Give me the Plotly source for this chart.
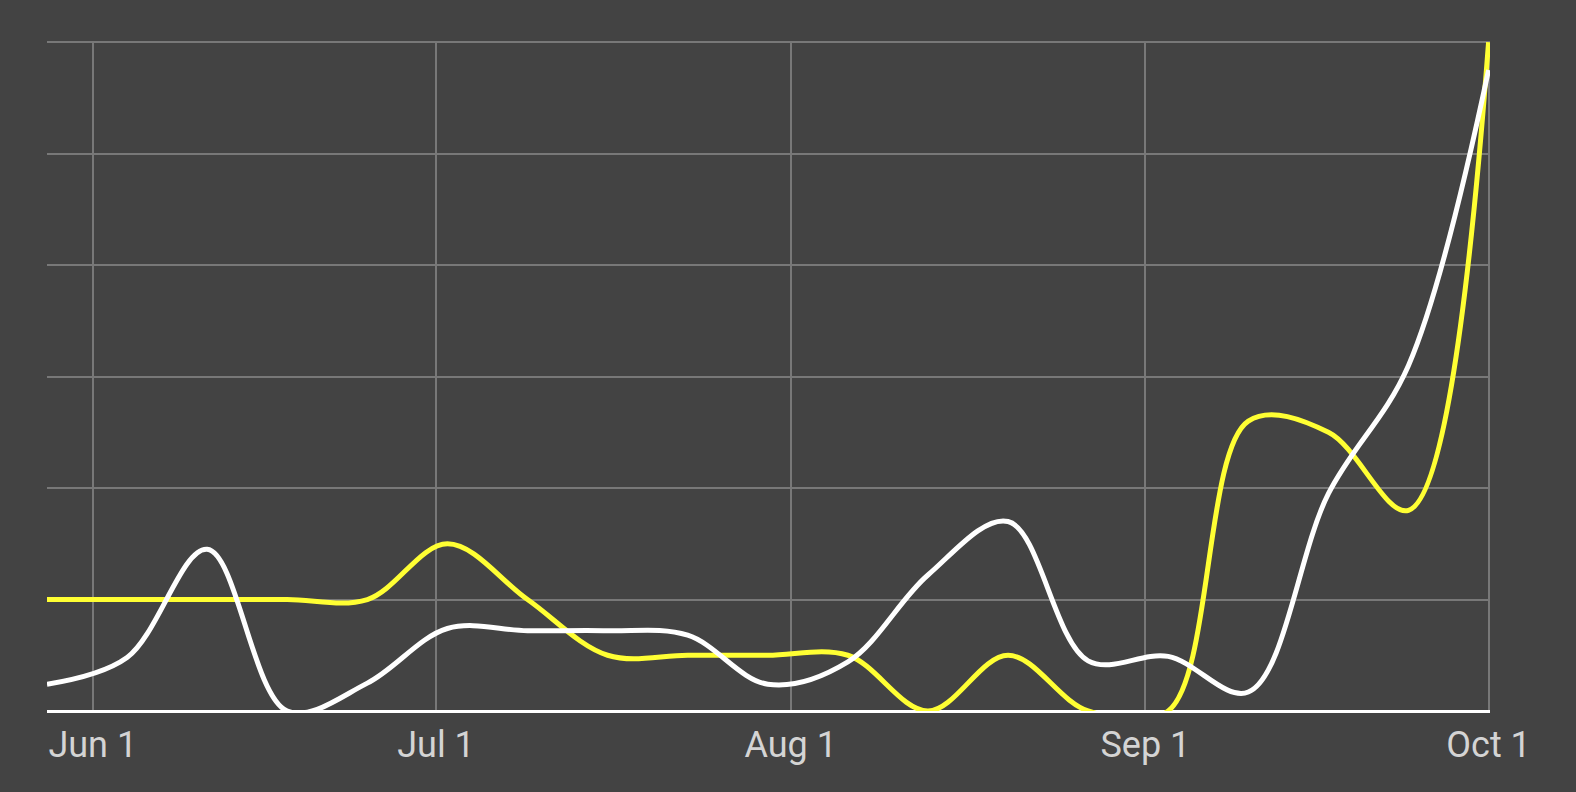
import plotly.graph_objects as go

dates = ["2019-05-28", "2019-06-04", "2019-06-11", "2019-06-18", "2019-06-25",
         "2019-07-02", "2019-07-09", "2019-07-16", "2019-07-23", "2019-07-30",
         "2019-08-06", "2019-08-13", "2019-08-20", "2019-08-27", "2019-09-03",
         "2019-09-10", "2019-09-17", "2019-09-24", "2019-10-01"]

white_series = [0.24, 0.48, 1.45, 0.0, 0.25, 0.74, 0.72, 0.72, 0.68, 0.24,
                0.44, 1.22, 1.70, 0.45, 0.49, 0.17, 1.95, 3.10, 5.75]

yellow_series = [1.0, 1.0, 1.0, 1.0, 1.0, 1.5, 1.0, 0.5, 0.5, 0.5,
                 0.5, 0.0, 0.5, 0.0, 0.0, 2.6, 2.5, 1.8, 6.0]

tick_dates = ["2019-06-01", "2019-07-01", "2019-08-01", "2019-09-01", "2019-10-01"]
tick_labels = ["Jun 1", "Jul 1", "Aug 1", "Sep 1", "Oct 1"]

BG = "#434343"
GRID = "#787878"

fig = go.Figure()
fig.add_trace(go.Scatter(x=dates, y=yellow_series, mode="lines",
                         line=dict(color="#ffff33", width=5, shape="spline", smoothing=1),
                         hoverinfo="skip", showlegend=False))
fig.add_trace(go.Scatter(x=dates, y=white_series, mode="lines",
                         line=dict(color="#ffffff", width=5, shape="spline", smoothing=1),
                         hoverinfo="skip", showlegend=False))

fig.update_layout(
    width=1576, height=792,
    paper_bgcolor=BG, plot_bgcolor=BG,
    margin=dict(l=47, r=86, t=41, b=81),
    font=dict(family="Roboto", size=36, color="#d4d4d4"),
    xaxis=dict(
        type="date",
        range=[dates[0], "2019-10-01 03:00"],
        tickvals=tick_dates, ticktext=tick_labels,
        showgrid=True, gridcolor=GRID, gridwidth=2,
        zeroline=False, showline=False,
        ticks="", ticklabelstandoff=9,
        tickfont=dict(family="Roboto", size=36, color="#d4d4d4"),
    ),
    yaxis=dict(
        range=[0, 6.01], dtick=1,
        showgrid=True, gridcolor=GRID, gridwidth=2,
        zeroline=True, zerolinecolor="#ffffff", zerolinewidth=3,
        showticklabels=False, ticks="",
    ),
)

fig.write_html(
    "out.html",
    config={"displayModeBar": False},
    post_script=(
        "document.documentElement.style.margin='0';"
        "document.documentElement.style.overflow='hidden';"
        "document.body.style.margin='0';"
        "document.body.style.overflow='hidden';"
        "document.body.style.background='#434343';"
    ),
)
